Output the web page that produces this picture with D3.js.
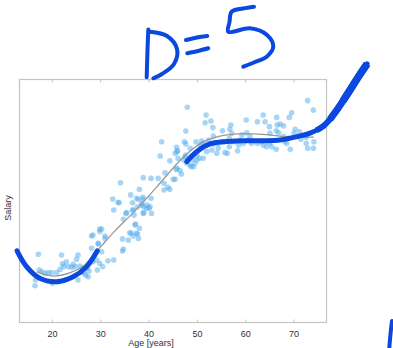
<!DOCTYPE html>
<meta charset="utf-8">
<style>
body { margin: 0; background: #fff; }
text { font-family: "Liberation Sans", Arial, sans-serif; fill: #333; }
</style>
<svg width="393" height="348"></svg>
<script src="https://d3js.org/d3.v7.min.js"></script>
<script>

// scatter data: age [years], salary (arbitrary units)
var ages = [
 17.2,16.6,16.5,17.4,17.9,18.55,19.2,19.9,20.1,21.0,21.3,21.7,22.0,22.2,22.5,23.0,23.4,24.1,24.4,24.8,
 25.4,25.1,25.4,25.8,26.1,26.6,27.0,27.3,27.7,27.5,28.2,28.5,29.25,29.4,29.6,29.9,30.5,31.0,31.6,32.8,
 28.2,29.9,34.6,34.6,35.8,36.4,35.3,36.8,37.2,37.5,37.9,38.6,38.9,39.6,40.6,40.3,32.8,33.7,29.9,28.5,
 29.6,30.3,42.4,44.4,45.9,34.2,38.9,40.5,42.0,43.4,43.2,45.1,45.5,44.0,43.2,44.4,38.1,36.3,32.6,33.9,
 36.7,37.9,38.9,38.6,37.7,39.7,40.1,35.5,36.7,39.0,37.0,34.8,37.3,38.1,30.3,31.0,36.1,36.8,37.7,34.8,
 45.9,46.5,46.8,47.9,48.6,49.6,48.9,50.0,48.0,47.7,42.7,47.4,47.7,49.8,45.8,46.0,45.7,37.5,38.8,40.5,
 39.0,47.5,48.8,50.0,51.7,51.9,52.9,53.3,53.4,52.4,51.3,50.6,52.0,53.4,54.4,55.3,57.0,56.8,57.2,56.7,
 55.5,57.5,56.7,55.8,54.4,58.6,58.4,59.6,59.3,60.3,61.3,62.5,63.7,64.1,65.0,66.5,66.6,67.2,67.9,66.4,
 66.9,65.1,65.0,63.7,64.4,65.5,66.4,63.4,62.5,68.2,68.6,67.9,69.3,69.1,69.6,70.3,70.1,71.2,71.5,72.6,
 72.9,74.1,72.9,74.1,74.2,72.6,52.0,53.1,54.1,51.3,48.6,47.7,47.3,46.1,49.1,50.5,45.5,61.0,60.6,58.9,
 68.9,60.2,51.0,56.3,49.3
];
var salaries = [
 27.9,17.3,14.9,21.4,20.7,20.0,20.3,20.3,15.9,20.3,16.6,21.7,27.6,23.9,22.8,24.8,22.8,22.5,23.7,22.8,
 27.6,25.8,17.3,23.0,20.7,20.3,19.3,22.1,21.0,18.6,30.3,24.8,25.5,21.4,32.1,24.2,22.8,35.4,25.2,25.5,
 35.4,37.2,29.2,34.2,33.7,36.5,44.7,46.1,39.9,36.5,34.4,48.8,44.7,46.8,44.7,47.4,46.1,49.3,38.3,35.8,
 32.4,28.9,68.3,66.3,70.1,57.3,59.4,59.1,59.1,61.4,57.1,58.7,58.7,55.4,54.3,54.6,54.6,52.3,50.6,49.1,
 49.1,50.5,50.5,48.1,47.4,48.1,46.8,45.0,46.1,45.0,44.0,42.3,40.3,38.6,38.3,34.4,36.7,35.4,36.2,30.0,
 63.3,62.3,60.9,65.3,64.6,65.3,68.3,68.7,88.4,78.6,74.2,74.2,73.3,74.2,71.9,70.5,62.8,50.9,51.3,50.9,
 47.4,68.0,63.9,66.7,82.0,85.2,82.7,80.0,76.5,74.9,73.5,72.8,72.8,73.3,73.5,78.7,81.1,79.3,77.7,75.6,
 74.2,74.2,72.1,69.7,71.5,72.8,70.5,73.5,77.0,77.9,73.5,82.4,85.2,82.4,80.4,84.2,81.1,81.5,80.7,78.7,
 77.9,77.7,73.5,72.8,72.1,72.1,71.1,74.2,73.5,74.2,73.5,76.3,71.1,84.2,86.1,79.3,77.7,78.3,75.2,73.5,
 91.1,87.2,71.5,71.5,74.2,76.0,70.1,70.8,69.4,67.4,71.5,68.7,66.7,67.4,67.0,67.4,69.4,76.3,74.9,74.9,
 75.6,83.1,74.5,69.4,63.9
];

// fitted curve (grey)
var fitAge = [16.9,20.2,23.7,26.8,29.9,33.0,36.8,41.7,45.1,47.9,51.3,54.8,58.3,61.6,65.1,68.6,71.9,74.2];
var fitSal = [20.6,18.9,20.2,23.5,30.5,37.4,44.9,55.6,63.4,69.1,74.1,76.5,77.4,77.4,77.0,76.1,76.1,76.1];

// hand-drawn degree-5 sketch (blue), in data units
var sketch1Age = [12.8,14.76,17.5,21.0,24.4,27.2,29.4];
var sketch1Sal = [29.3,22.8,18.0,16.6,18.6,22.8,29.3];
var sketch2Age = [47.9,49.95,52.7,55.5,59.6,63.7,67.2,70.7,73.4,76.2,78.2,81.0,83.4,85.2];
var sketch2Sal = [66.0,70.1,73.3,74.2,74.6,74.6,74.9,76.3,77.7,80.7,85.2,93.4,100.9,106.2];

var xTicks = [20, 30, 40, 50, 60, 70];

var svg = d3.select("svg");
var margin = {left: 19, top: 79, right: 67, bottom: 26};
var W = 393, H = 348;

var x = d3.scaleLinear().domain([13.2, 76.7]).range([margin.left, W - margin.right]);
var y = d3.scaleLinear().domain([0, 100]).range([H - margin.bottom, margin.top]);

var blue = "#0a48df";

// frame
svg.append("rect")
   .attr("x", x.range()[0] + 0.5)
   .attr("y", y.range()[1] + 0.5)
   .attr("width", x.range()[1] - x.range()[0])
   .attr("height", y.range()[0] - y.range()[1])
   .style("fill", "none")
   .style("stroke", "#c4c4c4")
   .style("stroke-width", 1.2);

// bottom axis, ticks inward
var bottomAxis = svg.append("g")
   .attr("transform", "translate(0," + (y.range()[0] + 0.5) + ")")
   .call(d3.axisBottom(x).tickValues(xTicks).tickSizeInner(-3).tickSizeOuter(0).tickPadding(8));
bottomAxis.select(".domain").remove();
bottomAxis.selectAll("line").style("stroke", "#c4c4c4");
bottomAxis.selectAll("text").style("font-size", "9px").style("fill", "#333");

// top ticks, inward
var topAxis = svg.append("g")
   .attr("transform", "translate(0," + (y.range()[1] + 0.5) + ")")
   .call(d3.axisTop(x).tickValues(xTicks).tickSizeInner(-3).tickSizeOuter(0).tickFormat(""));
topAxis.select(".domain").remove();
topAxis.selectAll("line").style("stroke", "#c4c4c4");

svg.append("text")
   .attr("x", x(40.5))
   .attr("y", 346)
   .attr("text-anchor", "middle")
   .style("font-size", "9px")
   .text("Age [years]");

svg.append("text")
   .attr("transform", "translate(11,208) rotate(-90)")
   .attr("text-anchor", "middle")
   .style("font-size", "9px")
   .text("Salary");

// scatter
svg.append("g").selectAll("circle")
   .data(d3.range(ages.length))
   .enter().append("circle")
   .attr("cx", function(i) { return x(ages[i]); })
   .attr("cy", function(i) { return y(salaries[i]); })
   .attr("r", 2.8)
   .style("fill", "rgb(80,172,236)")
   .style("opacity", 0.5);

// fit line
var line = d3.line()
   .x(function(d) { return x(d[0]); })
   .y(function(d) { return y(d[1]); })
   .curve(d3.curveCatmullRom);

svg.append("path")
   .attr("d", line(d3.zip(fitAge, fitSal)))
   .style("fill", "none")
   .style("stroke", "#999")
   .style("stroke-width", 1.3);

// sketched curve
function sketch(ax, sy, w) {
  return svg.append("path")
     .attr("d", line(d3.zip(ax, sy)))
     .style("fill", "none")
     .style("stroke", blue)
     .style("stroke-width", w)
     .style("stroke-linecap", "round")
     .style("stroke-linejoin", "round");
}
sketch(sketch1Age, sketch1Sal, 5);
sketch(sketch2Age, sketch2Sal, 5);

// pen pressed harder on the upswing: thicker copies over the tail only
function thickTail(frac, w) {
  var p = sketch(sketch2Age, sketch2Sal, w).style("stroke-linecap", "butt");
  var L = p.node().getTotalLength();
  p.style("stroke-dasharray", "0," + (L * frac) + "," + (L * (1 - frac)) + ",0");
}
thickTail(0.62, 6);
thickTail(0.70, 7);
thickTail(0.80, 7.5);

// handwriting "D=5" and the stray stroke, in pixels
var ink = d3.line().curve(d3.curveCatmullRom);
var strokes = [
  [[148.3,29.5],[147.5,50],[146.7,77.3]],
  [[150,31.7],[167,36],[177,49],[174,64],[162,74],[153.3,78.3]],
  [[186,40],[197,37.5],[207.3,36]],
  [[187.3,53.3],[198,51],[208.3,48.3]],
  [[254,6.7],[243,8.5],[231.7,11.7],[229.5,22],[228.3,31.7],[250,28.3],[267,35],[273.3,46.7],[266.7,56.7],[255,62],[243.3,66.7]],
  [[392,321],[390.5,334],[389.3,348]]
];
strokes.forEach(function(s) {
  svg.append("path")
     .attr("d", ink(s))
     .style("fill", "none")
     .style("stroke", blue)
     .style("stroke-width", 4)
     .style("stroke-linecap", "round")
     .style("stroke-linejoin", "round");
});

</script>
